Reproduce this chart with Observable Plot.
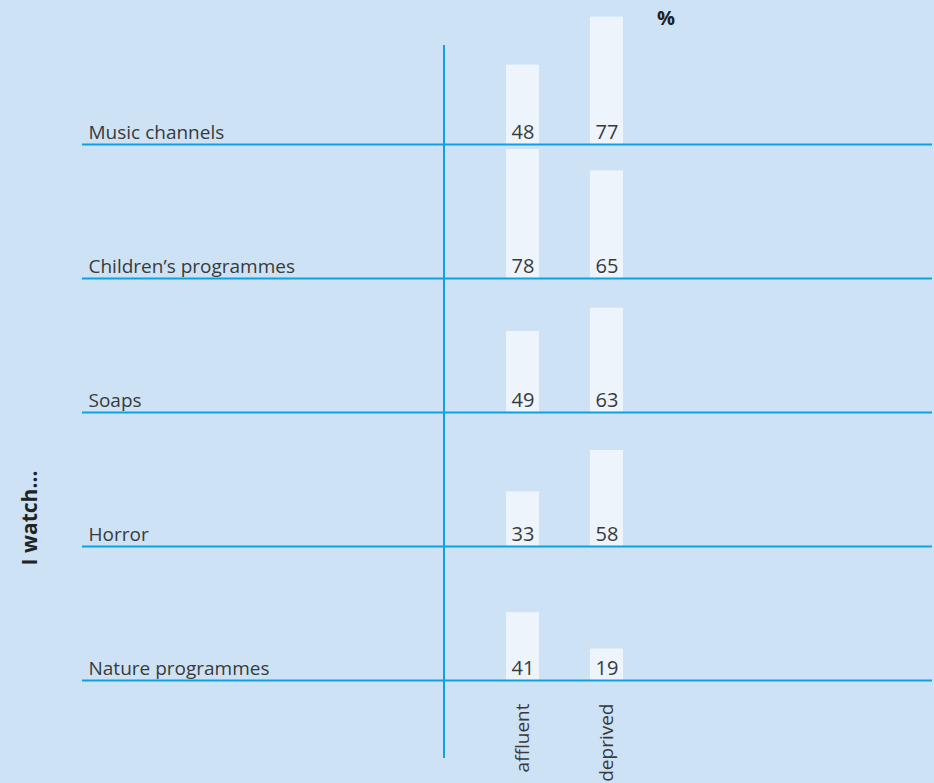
<!DOCTYPE html>
<html>
<head>
<meta charset="utf-8">
<script src="https://cdn.jsdelivr.net/npm/d3@7"></script>
<script src="https://cdn.jsdelivr.net/npm/@observablehq/plot@0.6"></script>
<style>
  html, body { margin: 0; padding: 0; background: #cde2f5; }
  #chart { width: 934px; height: 783px; }
  svg { display: block; }
</style>
</head>
<body>
<div id="chart"></div>
<script>
const categories = ["Music channels", "Children’s programmes", "Soaps", "Horror", "Nature programmes"];
const groups = ["affluent", "deprived"];
const affluent = [48, 78, 49, 33, 41];
const deprived = [77, 65, 63, 58, 19];
const unitLabel = "%";
const sideLabel = "I watch...";

const data = categories.flatMap((c, i) => [
  {category: c, group: "affluent", value: affluent[i]},
  {category: c, group: "deprived", value: deprived[i]}
]);

const lineColor = "#0ea0e2";
const textColor = "#3a3a3a";
const font = "'Open Sans', 'Noto Sans', sans-serif";

const plot = Plot.plot({
  width: 934,
  height: 783,
  marginTop: 10,
  marginBottom: 103,
  marginLeft: 82,
  marginRight: 2,
  style: {background: "transparent", fontFamily: font, fontSize: "19px", color: textColor, overflow: "visible"},
  fy: {domain: categories, padding: 0, axis: null},
  x: {domain: groups, range: [453, 675], padding: 0.612, axis: null},
  y: {domain: [0, 81], axis: null},
  marks: [
    Plot.barY(data, {fy: "category", x: "group", y: "value", fill: "#eef4fc"}),
    Plot.text(data, {fy: "category", x: "group", text: d => String(d.value), frameAnchor: "bottom", lineAnchor: "bottom", dy: -6, fill: textColor, fontSize: 20}),
    Plot.ruleY([0], {stroke: lineColor, strokeWidth: 2}),
    Plot.text(categories, {fy: d => d, text: d => d, frameAnchor: "bottom-left", textAnchor: "start", lineAnchor: "bottom", dx: 6, dy: -6, fill: textColor, fontSize: 19}),
    Plot.text(groups, {fy: () => categories[categories.length - 1], x: d => d, text: d => d, frameAnchor: "bottom", rotate: -90, textAnchor: "end", lineAnchor: "middle", dy: 23, fill: textColor, fontSize: 19})
  ]
});

const svg = d3.select(plot);
// vertical divider
svg.append("line")
  .attr("x1", 444).attr("x2", 444)
  .attr("y1", 45).attr("y2", 758)
  .attr("stroke", lineColor).attr("stroke-width", 2);
// unit label
svg.append("text")
  .attr("x", 666).attr("y", 25)
  .attr("text-anchor", "middle")
  .attr("font-family", font).attr("font-size", 20).attr("font-weight", "bold")
  .attr("fill", "#222")
  .text(unitLabel);
// side label
svg.append("text")
  .attr("transform", "translate(37,518) rotate(-90)")
  .attr("text-anchor", "middle")
  .attr("font-family", font).attr("font-size", 21).attr("font-weight", "bold")
  .attr("fill", "#222")
  .text(sideLabel);

document.getElementById("chart").appendChild(plot);
</script>
</body>
</html>
